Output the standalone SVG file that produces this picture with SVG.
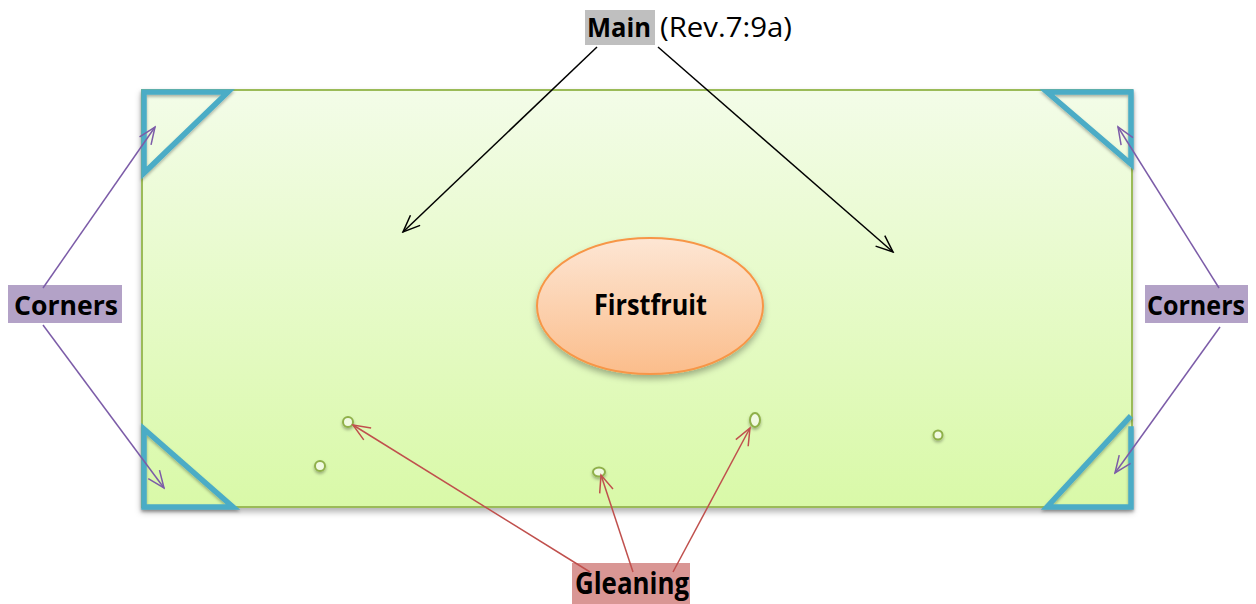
<svg xmlns="http://www.w3.org/2000/svg" width="1256" height="604" viewBox="0 0 1256 604">
<style>
.lbl{font-family:"Open Sans","Liberation Sans",sans-serif;font-weight:bold;fill:#000}
.reg{font-family:"Open Sans","Liberation Sans",sans-serif;font-weight:normal;fill:#000}
.corner{fill:none;stroke:#4bacc6;stroke-width:5.5;stroke-linejoin:miter;stroke-linecap:square}
.dot{fill:#f1fae2;stroke:#8fb04a;stroke-width:2}
.blk{stroke:#000;stroke-width:1.5;fill:none}
.pur{stroke:#7c5ca8;stroke-width:1.5;fill:none}
.red{stroke:#c0504d;stroke-width:1.5;fill:none}
</style>
<defs>
<linearGradient id="gField" x1="0" y1="0" x2="0" y2="1">
<stop offset="0" stop-color="#f3fce8"/>
<stop offset="1" stop-color="#d9f9a8"/>
</linearGradient>
<linearGradient id="gFruit" x1="0" y1="0" x2="0" y2="1">
<stop offset="0" stop-color="#fde6d4"/>
<stop offset="1" stop-color="#fbbd8b"/>
</linearGradient>
<filter id="sh" x="-10%" y="-10%" width="120%" height="130%">
<feDropShadow dx="0" dy="4" stdDeviation="3" flood-color="#000" flood-opacity="0.3"/>
</filter>
<filter id="shs" x="-50%" y="-50%" width="200%" height="250%">
<feDropShadow dx="0" dy="2" stdDeviation="1.5" flood-color="#000" flood-opacity="0.3"/>
</filter>
<marker id="aB" markerWidth="20" markerHeight="16" refX="18" refY="8" orient="auto" markerUnits="userSpaceOnUse">
<path d="M1,1 L18,8 L1,15" fill="none" stroke="#000" stroke-width="1.5"/>
</marker>
<marker id="aP" markerWidth="20" markerHeight="16" refX="18" refY="8" orient="auto" markerUnits="userSpaceOnUse">
<path d="M1,1 L18,8 L1,15" fill="none" stroke="#7c5ca8" stroke-width="1.5"/>
</marker>
<marker id="aR" markerWidth="20" markerHeight="16" refX="18" refY="8" orient="auto" markerUnits="userSpaceOnUse">
<path d="M1,1 L18,8 L1,15" fill="none" stroke="#c0504d" stroke-width="1.5"/>
</marker>
</defs>

<g id="field">
<rect x="142" y="90" width="990" height="417" fill="url(#gField)" stroke="#9bbb59" stroke-width="2" filter="url(#sh)"/>
</g>

<g id="corner-tl"><path class="corner" d="M228,92 L144,92 L144,173 Z" filter="url(#shs)"/></g>
<g id="corner-tr"><path class="corner" d="M1047,92 L1131,92 L1131,164 Z" filter="url(#shs)"/></g>
<g id="corner-bl"><path class="corner" d="M144,429 L144,507 L233,507 Z" filter="url(#shs)"/></g>
<g id="corner-br"><path class="corner" d="M1129,418 L1047,507 L1131,507 L1131,429" filter="url(#shs)"/></g>

<g id="firstfruit">
<ellipse cx="650" cy="306" rx="113" ry="68" fill="url(#gFruit)" stroke="#f79646" stroke-width="2" filter="url(#sh)"/>
<text class="lbl" x="594" y="315" font-size="28" textLength="113" lengthAdjust="spacingAndGlyphs">Firstfruit</text>
</g>

<g id="dots" filter="url(#shs)">
<circle class="dot" cx="348" cy="422" r="5"/>
<circle class="dot" cx="320" cy="466" r="5"/>
<ellipse class="dot" cx="599" cy="472" rx="6" ry="4.5"/>
<ellipse class="dot" cx="755" cy="420" rx="5" ry="7"/>
<circle class="dot" cx="938" cy="435" r="4.5"/>
</g>

<g id="main-label">
<rect x="585" y="10" width="70" height="35" fill="#bfbfbf"/>
<text class="lbl" x="587" y="37" font-size="27" textLength="64" lengthAdjust="spacingAndGlyphs">Main</text>
<text class="reg" x="660" y="37" font-size="27" textLength="132" lengthAdjust="spacingAndGlyphs">(Rev.7:9a)</text>
</g>

<g id="corners-left">
<rect x="8" y="285" width="114" height="38" fill="#b3a2c7"/>
<text class="lbl" x="14" y="315" font-size="27" textLength="104" lengthAdjust="spacingAndGlyphs">Corners</text>
</g>
<g id="corners-right">
<rect x="1145" y="285" width="103" height="38" fill="#b3a2c7"/>
<text class="lbl" x="1147" y="315" font-size="27" textLength="98" lengthAdjust="spacingAndGlyphs">Corners</text>
</g>

<g id="gleaning-label">
<rect x="572" y="563" width="118" height="41" fill="#d99694"/>
<text class="lbl" x="575" y="594" font-size="30" textLength="114" lengthAdjust="spacingAndGlyphs">Gleaning</text>
</g>

<g id="connectors">
<line class="blk" x1="597" y1="47" x2="403" y2="232" marker-end="url(#aB)"/>
<line class="blk" x1="658" y1="47" x2="893" y2="252" marker-end="url(#aB)"/>
<line class="pur" x1="43" y1="288" x2="155" y2="127" marker-end="url(#aP)"/>
<line class="pur" x1="43" y1="325" x2="164" y2="488" marker-end="url(#aP)"/>
<line class="pur" x1="1219" y1="288" x2="1118" y2="127" marker-end="url(#aP)"/>
<line class="pur" x1="1220" y1="327" x2="1115" y2="473" marker-end="url(#aP)"/>
<line class="red" x1="590" y1="572" x2="353" y2="425" marker-end="url(#aR)"/>
<line class="red" x1="633" y1="572" x2="601" y2="475" marker-end="url(#aR)"/>
<line class="red" x1="673" y1="572" x2="750" y2="428" marker-end="url(#aR)"/>
</g>
</svg>
